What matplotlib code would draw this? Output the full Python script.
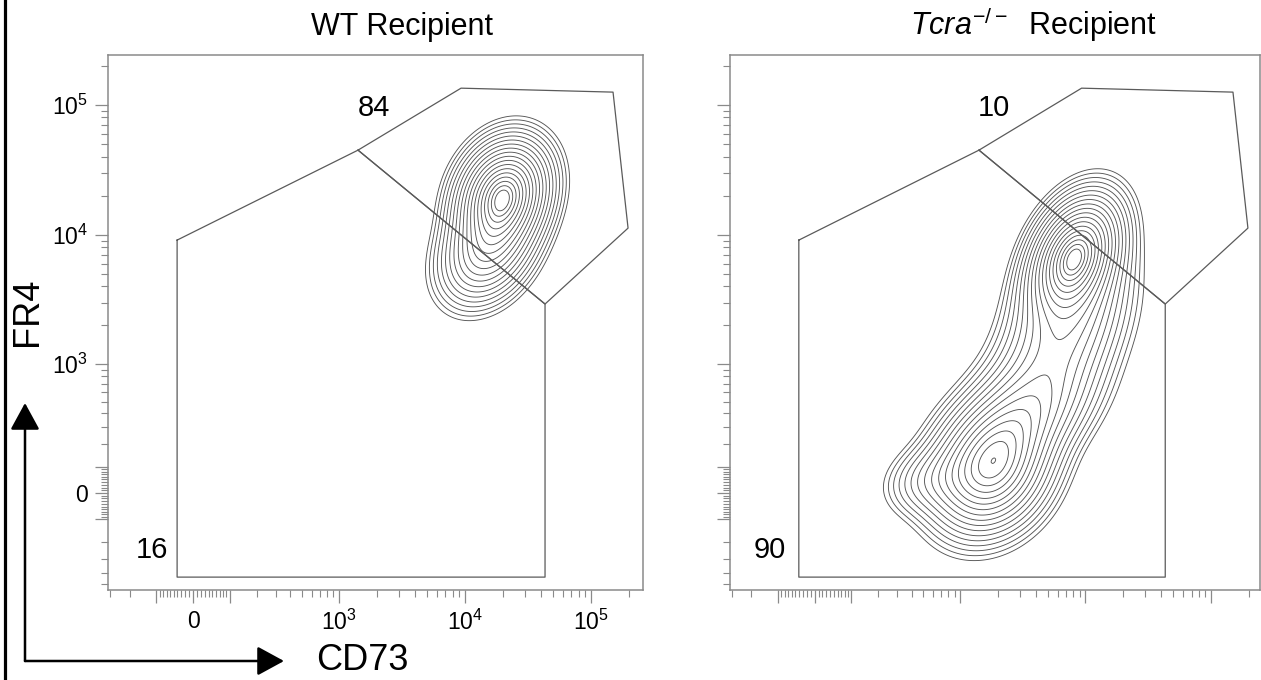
import numpy as np
import matplotlib
matplotlib.use('Agg')
import matplotlib.pyplot as plt
from matplotlib.lines import Line2D
from matplotlib.patches import FancyArrowPatch

plt.rcParams['font.family'] = ['Liberation Sans', 'DejaVu Sans']
plt.rcParams['mathtext.fontset'] = 'custom'
plt.rcParams['mathtext.rm'] = 'Liberation Sans'
plt.rcParams['mathtext.it'] = 'Liberation Sans:italic'

# biexponential (asinh) cofactors and display limits of the two channels
CD73_COF = 139
FR4_COF = 206
CD73_LIM = [(-314, 259000), (-314, 246000)]
FR4_LIM = (-556, 241700)

# gate vertices (CD73, FR4) - same gate template on both panels
gate_hi_x = [1414, 9313, 149800, 197100, 43230]
gate_hi_y = [44790, 134300, 125200, 11250, 2927]
gate_lo_x = [-41, 1414, 43230, 43230, -41]
gate_lo_y = [9095, 44790, 2927, -434, -434]

gate_pct_hi = ['84', '10']
gate_pct_lo = ['16', '90']
panel_titles = ['WT Recipient', r'$\mathit{Tcra}^{-/-}$  Recipient']

# populations: centre (CD73, FR4), spread (decades), correlation, weight
wt_cx = [20040, 15240]
wt_cy = [20190, 7620]
wt_sx = [0.19, 0.20]
wt_sy = [0.22, 0.22]
wt_rho = [0.2, 0.3]
wt_w = [1.0, 0.45]

ko_cx = [8190, 7340, 4823, 3052, 1764, 582]
ko_cy = [6980, 2631, 898, 345, 86, 48]
ko_sx = [0.19, 0.25, 0.30, 0.30, 0.25, 0.20]
ko_sy = [0.24, 0.30, 0.30, 0.25, 0.26, 0.15]
ko_rho = [0.35, 0.35, 0.5, 0.45, 0.2, 0.2]
ko_w = [1.0, 0.3, 0.2, 0.35, 0.8, 0.12]

major_vals = [0, 1e3, 1e4, 1e5]
major_labels = ['0', '$10^3$', '$10^4$', '$10^5$']

LN10 = np.log(10)


def fwd(c):
    return lambda v: np.arcsinh(np.asarray(v) / c) / LN10


def inv(c):
    return lambda u: c * np.sinh(np.asarray(u) * LN10)


def density(U, V, cx, cy, sx, sy, rho, w):
    Z = np.zeros_like(U)
    for i in range(len(cx)):
        mu = np.arcsinh(cx[i] / CD73_COF) / LN10
        mv = np.arcsinh(cy[i] / FR4_COF) / LN10
        du = (U - mu) / sx[i]
        dv = (V - mv) / sy[i]
        q = (du ** 2 - 2 * rho[i] * du * dv + dv ** 2) / (1 - rho[i] ** 2)
        Z += w[i] * np.exp(-q / 2)
    return Z


def tick_sets(lo, hi):
    minors = []
    for d in [10, 100, 1000, 10000, 100000]:
        for m in range(1, 10):
            for s in [1, -1]:
                v = s * m * d
                if lo < v < hi:
                    minors.append(v)
    minors = [v for v in minors if v not in (100, -100, 1000, 10000, 100000)]
    majors = [v for v in [-100, 0, 100, 1e3, 1e4, 1e5] if lo < v < hi]
    return majors, minors


fig = plt.figure(figsize=(12.61, 6.80), dpi=100)
axes = [fig.add_axes([108 / 1261, 90 / 680, 535 / 1261, 535 / 680]),
        fig.add_axes([730 / 1261, 90 / 680, 530 / 1261, 535 / 680])]

pops = [(wt_cx, wt_cy, wt_sx, wt_sy, wt_rho, wt_w),
        (ko_cx, ko_cy, ko_sx, ko_sy, ko_rho, ko_w)]
title_x = [0.5495, 0.5736]
spine_col = '#8a8a8a'
line_col = '#5a5a5a'

for k, ax in enumerate(axes):
    ax.set_xscale('function', functions=(fwd(CD73_COF), inv(CD73_COF)))
    ax.set_yscale('function', functions=(fwd(FR4_COF), inv(FR4_COF)))
    ax.set_xlim(*CD73_LIM[k])
    ax.set_ylim(*FR4_LIM)

    # contour density on a grid uniform in display units
    u = np.linspace(fwd(CD73_COF)(CD73_LIM[k][0]), fwd(CD73_COF)(CD73_LIM[k][1]), 500)
    v = np.linspace(fwd(FR4_COF)(FR4_LIM[0]), fwd(FR4_COF)(FR4_LIM[1]), 500)
    U, V = np.meshgrid(u, v)
    Z = density(U, V, *pops[k])
    radii = np.linspace(0.3, 2.8, 19)[::-1]
    levels = Z.max() * np.exp(-radii ** 2 / 2)
    ax.contour(inv(CD73_COF)(U), inv(FR4_COF)(V), Z, levels=levels,
               colors='#555555', linewidths=0.65)

    # gates
    ax.plot(gate_hi_x + gate_hi_x[:1], gate_hi_y + gate_hi_y[:1], color=line_col, lw=0.9)
    ax.plot(gate_lo_x + gate_lo_x[:1], gate_lo_y + gate_lo_y[:1], color=line_col, lw=0.9)
    ax.text(0.498, 0.901, gate_pct_hi[k], transform=ax.transAxes, ha='center', va='center', fontsize=21)
    ax.text(0.083 if k == 0 else 0.0755, 0.074, gate_pct_lo[k], transform=ax.transAxes,
            ha='center', va='center', fontsize=21)

    ax.text(title_x[k], 1.0374, panel_titles[k], transform=ax.transAxes, ha='center', va='baseline', fontsize=22)

    for s in ax.spines.values():
        s.set_color(spine_col)
        s.set_linewidth(1.1)

    xmaj, xmin = tick_sets(*CD73_LIM[k])
    ymaj, ymin = tick_sets(*FR4_LIM)
    ax.set_xticks(xmaj)
    ax.set_xticks(xmin, minor=True)
    ax.set_yticks(ymaj)
    ax.set_yticks(ymin, minor=True)
    if k == 0:
        ax.set_xticklabels([major_labels[major_vals.index(t)] if t in major_vals else '' for t in xmaj])
        ax.set_yticklabels([major_labels[major_vals.index(t)] if t in major_vals else '' for t in ymaj])
    else:
        ax.set_xticklabels([])
        ax.set_yticklabels([])
    ax.tick_params(which='major', length=9.5, width=0.9, color=spine_col, labelsize=16.5, pad=5)
    ax.tick_params(which='minor', length=5, width=0.8, color=spine_col)

# axis labels with arrows
fig.text(27 / 1261, 1 - 312 / 680, 'FR4', rotation=90, ha='center', va='center', fontsize=26)
fig.text(362 / 1261, 1 - 661 / 680, 'CD73', ha='center', va='center', fontsize=26)
corner = (25 / 1261, 1 - 661 / 680)
for tip in [(25 / 1261, 1 - 403 / 680), (284 / 1261, 1 - 661 / 680)]:
    fig.add_artist(FancyArrowPatch(corner, tip, transform=fig.transFigure,
                                   arrowstyle='-|>,head_length=0.55,head_width=0.3',
                                   mutation_scale=30, lw=1.8, color='black', shrinkA=0, shrinkB=0))

fig.add_artist(Line2D([5 / 1261, 5 / 1261], [0, 1], transform=fig.transFigure, color='black', lw=2.3))

fig.savefig('out.png', dpi=100)
